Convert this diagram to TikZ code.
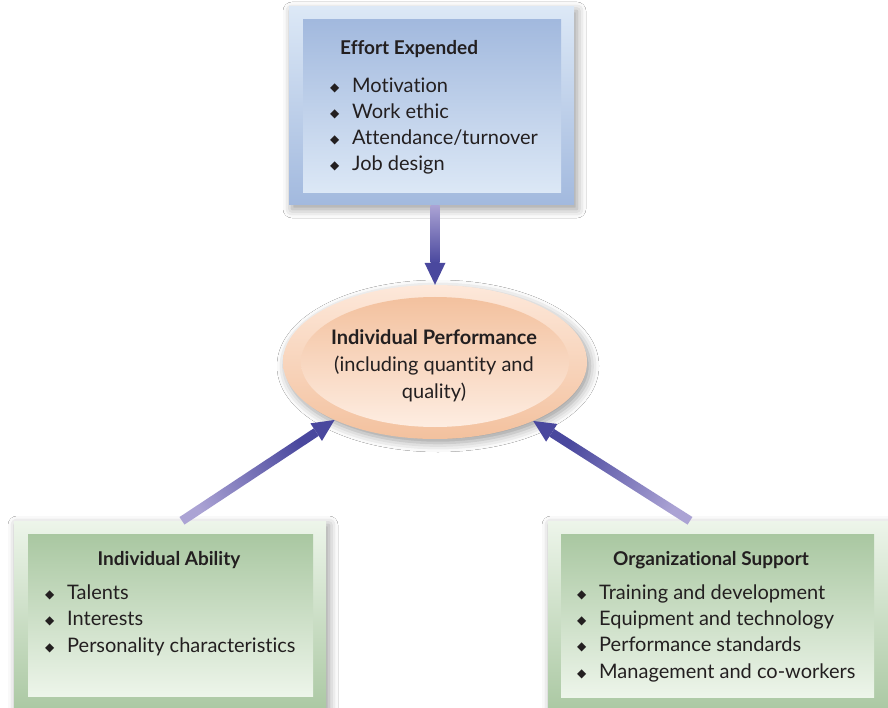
\documentclass[tikz,border=0pt]{standalone}
\usepackage{fontspec}
\setmainfont{Lato}[Ligatures=NoCommon]
\newfontfamily\symfont{DejaVu Sans}
\usetikzlibrary{shapes.geometric,shadows.blur,calc}

\definecolor{blueLight}{HTML}{DCE8F6}
\definecolor{blueDark}{HTML}{A2B9DE}
\definecolor{greenLight}{HTML}{EDF5EA}
\definecolor{greenDark}{HTML}{A9C7A1}
\definecolor{peachLight}{HTML}{FDE8DA}
\definecolor{peachDark}{HTML}{F3C19E}
\definecolor{arrowLight}{HTML}{ABA3D4}
\definecolor{arrowDark}{HTML}{4A489E}
\definecolor{textDark}{HTML}{231F20}

\newcommand{\bul}{\makebox[22pt][l]{\raisebox{1pt}{\symfont\fontsize{12}{12}\selectfont ◆}}}

% fat shaded arrow: tail, tip, shading angle
\newcommand{\fatarrow}[3]{%
  \coordinate (hb) at ($(#2)!22pt!(#1)$);
  \shade[top color=arrowDark, bottom color=arrowLight, shading angle=#3]
    ($(#1)!4.5pt!90:(hb)$) -- ($(hb)!4.5pt!-90:(#1)$) -- ($(hb)!4.5pt!90:(#1)$) -- ($(#1)!4.5pt!-90:(hb)$) -- cycle;
  \fill[arrowDark] (#2) -- ($(hb)!10.5pt!90:(#2)$) -- ($(hb)!10.5pt!-90:(#2)$) -- cycle;
}

\tikzset{
  frame/.style = {draw=none, inner sep=0pt, blur shadow={shadow blur radius=9pt, shadow xshift=3pt, shadow yshift=-4pt, shadow opacity=40}},
  blueframe/.style = {frame, top color=blueLight, bottom color=blueDark},
  blueinner/.style = {draw=none, inner sep=0pt, top color=blueDark, bottom color=blueLight},
  greenframe/.style = {frame, top color=greenLight, bottom color=greenDark},
  greeninner/.style = {draw=none, inner sep=0pt, top color=greenDark, bottom color=greenLight},
  title/.style = {font=\fontsize{19}{23}\selectfont\bfseries, text=textDark, inner sep=0pt},
  items/.style = {font=\fontsize{20}{26.3}\selectfont, text=textDark, align=left, inner sep=0pt},
}

\begin{document}
\begin{tikzpicture}[x=1pt, y=-1pt]
  \fill[white] (0,0) rectangle (888,708);
  \useasboundingbox (0,0) rectangle (888,708);

  % performance ellipse
  \node[ellipse, frame, minimum width=304pt, minimum height=154pt, top color=peachLight, bottom color=peachDark] (Perf) at (435,362) {};
  \node[ellipse, draw=none, inner sep=0pt, minimum width=268pt, minimum height=130pt, top color=peachDark, bottom color=peachLight!80!white] (PerfIn) at (435,362) {};
  \node[font=\fontsize{20}{27}\selectfont, text=textDark, align=center, inner sep=0pt] (PerfText) at (434,366)
    {\textbf{Individual Performance}\\(including quantity and\\quality)};

  % effort box
  \node[blueframe, minimum width=285pt, minimum height=198pt] (EffortFrame) at (431.5,106) {};
  \node[blueinner, minimum width=258pt, minimum height=173pt] (Effort) at (432,106.5) {};
  \node[title, anchor=base west] (EffortTitle) at (340,55) {Effort Expended};
  \node[items, anchor=base west] (EffortList) at (330,171)
    {\bul Motivation\\\bul Work ethic\\\bul Attendance/turnover\\\bul Job design};

  % ability box
  \node[greenframe, minimum width=312pt, minimum height=195pt] (AbilityFrame) at (170,618.5) {};
  \node[greeninner, minimum width=285pt, minimum height=162pt] (Ability) at (170.5,615) {};
  \node[title, anchor=base] (AbilityTitle) at (169,565) {Individual Ability};
  \node[items, anchor=base west] (AbilityList) at (45,652)
    {\bul Talents\\\bul Interests\\\bul Personality characteristics};

  % support box
  \node[greenframe, minimum width=342pt, minimum height=195pt] (SupportFrame) at (719,618.5) {};
  \node[greeninner, minimum width=313pt, minimum height=163pt] (Support) at (717.5,615.5) {};
  \node[title, anchor=base] (SupportTitle) at (711,565) {Organizational Support};
  \node[items, anchor=base west] (SupportList) at (577,678)
    {\bul Training and development\\\bul Equipment and technology\\\bul Performance standards\\\bul Management and co-workers};

  % arrows
  \coordinate (ETail) at (Perf.north |- EffortFrame.south);
  \coordinate (ATail) at ([xshift=12pt]AbilityFrame.north);
  \coordinate (STail) at ([xshift=-29pt]SupportFrame.north);
  \fatarrow{ETail}{Perf.north}{180}
  \fatarrow{ATail}{Perf.210}{-57}
  \fatarrow{STail}{Perf.-31}{57}
\end{tikzpicture}
\end{document}
